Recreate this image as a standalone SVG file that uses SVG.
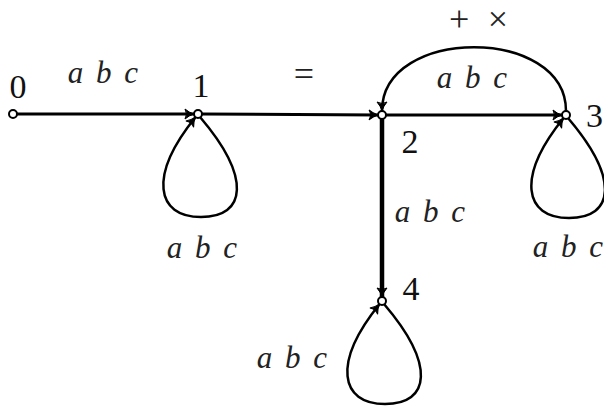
<svg xmlns="http://www.w3.org/2000/svg" width="604" height="409" viewBox="0 0 604 409">
<style>
.e{fill:none;stroke:#000;stroke-linecap:butt}
.n{fill:#fff;stroke:#000;stroke-width:2}
.lab{font-style:italic;font-size:31px;word-spacing:5px;fill:#222}
.num{font-size:34px;fill:#111}
.sym{font-size:36px;fill:#222}
</style>
<defs>
<marker id="ar" markerUnits="userSpaceOnUse" markerWidth="14" markerHeight="14" viewBox="-10 -7 12 14" refX="0" refY="0" orient="auto">
<path d="M0,0 Q-5,-1.5 -9,-5 Q-6,0 -9,5 Q-5,1.5 0,0 Z" fill="#000" stroke="#000" stroke-width="1"/>
</marker>
</defs>
<g id="connectors">
<line class="e" x1="17" y1="114" x2="194" y2="114" stroke-width="3" marker-end="url(#ar)"/>
<line class="e" x1="202" y1="114" x2="378" y2="115" stroke-width="3" marker-end="url(#ar)"/>
<line class="e" x1="386" y1="115" x2="562" y2="115" stroke-width="3" marker-end="url(#ar)"/>
<line class="e" x1="382" y1="119" x2="382" y2="297" stroke-width="4.5" marker-end="url(#ar)"/>
<path class="e" d="M566,111 C566,26 382,26 382,111" stroke-width="2.5" marker-end="url(#ar)"/>
<path class="e" d="M200,117 C252,178 246,217 201,217 C156,217 148,176 195.4,117.2" stroke-width="2.5" marker-end="url(#ar)"/>
<path class="e" d="M568,118 C620,179 614,218 569,218 C524,218 516,177 563.4,118.2" stroke-width="2.5" marker-end="url(#ar)"/>
<path class="e" d="M384,304 C436,365 430,404 385,404 C340,404 332,363 379.4,304.2" stroke-width="2.5" marker-end="url(#ar)"/>
</g>
<g font-family="Liberation Serif, Times New Roman, DejaVu Serif, serif">
<g id="node0"><circle class="n" cx="13" cy="114" r="4"/><text class="num" x="18" y="98" text-anchor="middle">0</text></g>
<g id="node1"><circle class="n" cx="198" cy="114" r="4"/><text class="num" x="201" y="97" text-anchor="middle">1</text></g>
<g id="node2"><circle class="n" cx="382" cy="115" r="4"/><text class="num" x="410" y="153" text-anchor="middle">2</text></g>
<g id="node3"><circle class="n" cx="566" cy="115" r="4"/><text class="num" x="586" y="127">3</text></g>
<g id="node4"><circle class="n" cx="382" cy="301" r="4"/><text class="num" x="411" y="300" text-anchor="middle">4</text></g>
<g id="labels">
<text class="lab" x="103" y="83" text-anchor="middle">a b c</text>
<text class="sym" x="304" y="86" text-anchor="middle">=</text>
<text class="sym" x="449" y="31" textLength="59" lengthAdjust="spacing">+ ×</text>
<text class="lab" x="472" y="88" text-anchor="middle">a b c</text>
<text class="lab" x="430" y="222" text-anchor="middle">a b c</text>
<text class="lab" x="202" y="258" text-anchor="middle">a b c</text>
<text class="lab" x="568" y="257" text-anchor="middle">a b c</text>
<text class="lab" x="292" y="368" text-anchor="middle">a b c</text>
</g>
</g>
</svg>
